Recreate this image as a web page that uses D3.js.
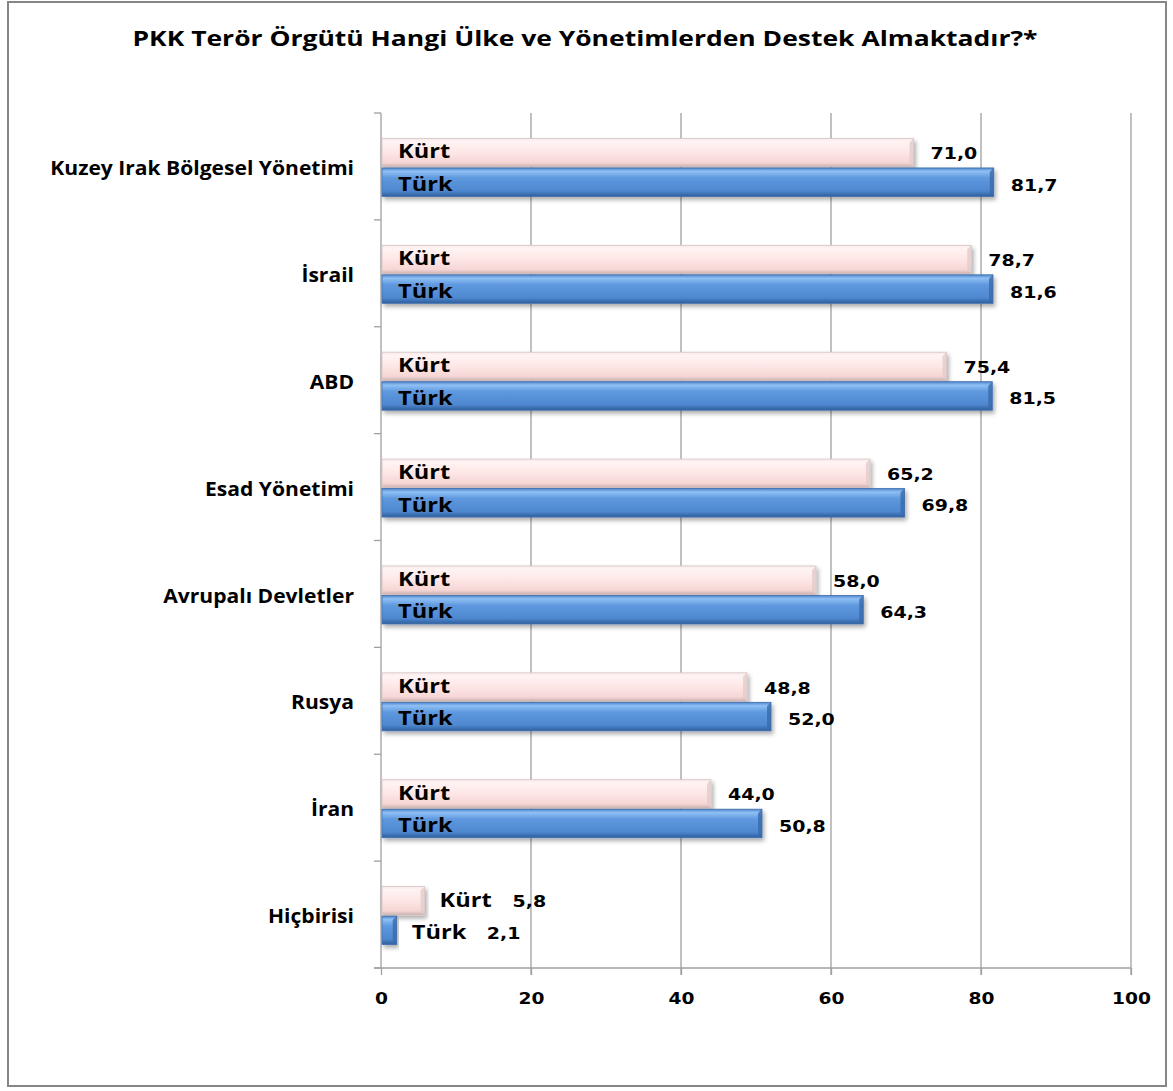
<!DOCTYPE html>
<html>
<head>
<meta charset="utf-8">
<script src="https://cdn.jsdelivr.net/npm/d3@7"></script>
<style>
  body { margin: 0; background: #fff; }
  svg text { fill: #000; }
</style>
</head>
<body>
<svg id="chart" width="1173" height="1091"></svg>
<script>
// chart data
var categories = ["Kuzey Irak Bölgesel Yönetimi", "İsrail", "ABD", "Esad Yönetimi",
                  "Avrupalı Devletler", "Rusya", "İran", "Hiçbirisi"];
var kurtValues = [71.0, 78.7, 75.4, 65.2, 58.0, 48.8, 44.0, 5.8];
var turkValues = [81.7, 81.6, 81.5, 69.8, 64.3, 52.0, 50.8, 2.1];
var seriesNames = ["Kürt", "Türk"];
var xTicks = [0, 20, 40, 60, 80, 100];
var title = "PKK Terör Örgütü Hangi Ülke ve Yönetimlerden Destek Almaktadır?*";

var svg = d3.select("#chart");

// the original picture is a bit wide, so text gets stretched sideways
function stretch(sel, k) {
    sel.each(function () {
        var len = this.getComputedTextLength();
        d3.select(this).attr("textLength", len * k).attr("lengthAdjust", "spacingAndGlyphs");
    });
}

// outer frame
svg.append("rect").attr("x", 8).attr("y", 2).attr("width", 1158).attr("height", 1084)
    .attr("fill", "#fff").attr("stroke", "#868686").attr("stroke-width", 2);

var plotLeft = 381, plotRight = 1131, plotTop = 113, plotBottom = 968;

var x = d3.scaleLinear().domain([0, 100]).range([plotLeft, plotRight]);
var y = d3.scaleBand().domain(categories).range([plotTop, plotBottom]);

// gradients
var defs = svg.append("defs");
function grad(id, stops) {
    var g = defs.append("linearGradient").attr("id", id)
        .attr("x1", 0).attr("y1", 0).attr("x2", 0).attr("y2", 1);
    stops.forEach(function (s) {
        g.append("stop").attr("offset", s[0]).attr("stop-color", s[1]);
    });
}
grad("gKurt", [[0, "#f6eaea"], [0.12, "#fff3f3"], [0.5, "#fde6e5"], [0.85, "#f5d6d5"], [1, "#c9b1b0"]]);
grad("gTurk", [[0, "#4f86cc"], [0.12, "#8fc0f5"], [0.35, "#5e98de"], [0.8, "#4f88d0"], [1, "#2f5e9c"]]);
var sh = defs.append("filter").attr("id", "shadow").attr("x", "-5%").attr("y", "-20%")
    .attr("width", "115%").attr("height", "160%");
sh.append("feDropShadow").attr("dx", 2).attr("dy", 3).attr("stdDeviation", 2)
    .attr("flood-color", "#000").attr("flood-opacity", 0.32);

// gridlines
svg.append("g").selectAll("line").data(xTicks.slice(1)).enter().append("line")
    .attr("x1", function (d) { return x(d); }).attr("x2", function (d) { return x(d); })
    .attr("y1", plotTop).attr("y2", plotBottom + 7)
    .attr("stroke", "#a0a0a0").attr("stroke-width", 1.3);

// x axis
var xAxis = svg.append("g").attr("transform", "translate(0," + plotBottom + ")")
    .call(d3.axisBottom(x).tickValues(xTicks).tickSize(7).tickPadding(14));
xAxis.select(".domain").attr("d", "M" + (plotLeft - 7) + ",0H" + plotRight).attr("stroke", "#a0a0a0").attr("stroke-width", 1.3);
xAxis.selectAll(".tick line").attr("stroke", "#a0a0a0").attr("stroke-width", 1.3);
xAxis.selectAll(".tick text").attr("font-family", "DejaVu Sans").attr("font-weight", "bold")
    .attr("font-size", 16.5).attr("dy", "0.9em");
stretch(xAxis.selectAll(".tick text"), 1.13);

// y axis
var yAxis = svg.append("g").attr("transform", "translate(" + plotLeft + ",0)")
    .call(d3.axisLeft(y).tickSize(0).tickPadding(27));
yAxis.select(".domain").attr("d", "M0," + plotTop + "V" + plotBottom).attr("stroke", "#a0a0a0").attr("stroke-width", 1.3);
yAxis.selectAll(".tick text").attr("font-family", "Open Sans").attr("font-weight", "bold")
    .attr("font-size", 19.5).attr("dy", "0.44em");
stretch(yAxis.selectAll(".tick text"), 1.08);
// category separators
svg.append("g").selectAll("line").data(categories.concat([null])).enter().append("line")
    .attr("x1", plotLeft - 7).attr("x2", plotLeft)
    .attr("y1", function (d, i) { return plotTop + i * y.bandwidth(); })
    .attr("y2", function (d, i) { return plotTop + i * y.bandwidth(); })
    .attr("stroke", "#a0a0a0").attr("stroke-width", 1.3);

// bars
var barH = 29.5;
var series = [kurtValues, turkValues];
var fills = ["url(#gKurt)", "url(#gTurk)"];
var strokes = ["#d8c3c2", "#3f6fae"];

series.forEach(function (vals, s) {
    var g = svg.append("g");
    var rows = g.selectAll("g").data(categories).enter().append("g");
    function by(i) { return y(categories[i]) + y.bandwidth() / 2 - barH + s * barH + 1.5; }
    rows.append("rect")
        .attr("x", x(0) + 1)
        .attr("y", function (d, i) { return by(i); })
        .attr("width", function (d, i) { return x(vals[i]) - x(0) - 1; })
        .attr("height", barH - 1)
        .attr("fill", fills[s]).attr("stroke", strokes[s]).attr("stroke-width", 0.8)
        .attr("filter", "url(#shadow)");
    // bevel shade at the right end
    rows.append("path")
        .attr("d", function (d, i) {
            var xe = x(vals[i]), yt = by(i), b = 4;
            return "M" + (xe - b) + "," + (yt + b) + "L" + xe + "," + yt + "L" + xe + "," + (yt + barH - 1) +
                "L" + (xe - b) + "," + (yt + barH - 1 - b) + "Z";
        })
        .attr("fill", s === 0 ? "#e2cccb" : "#3a6aaa").attr("opacity", 0.8);
    // name label and value label
    rows.each(function (d, i) {
        var row = d3.select(this);
        var v = vals[i];
        var yc = by(i) + barH / 2;
        var short = x(v) - x(0) < 80;
        var nameX = short ? x(v) + 15 : x(0) + 17;
        var nm = row.append("text").attr("x", nameX).attr("y", yc - 2 + s * 3).attr("dy", "0.36em")
            .attr("font-family", "Open Sans").attr("font-weight", "bold").attr("font-size", 20)
            .text(seriesNames[s]);
        stretch(nm, 1.18);
        var valX = short ? nameX + 73 + s * 2 : x(v) + 17;
        var vl = row.append("text").attr("x", valX).attr("y", yc + (s === 0 ? 0 : 2)).attr("dy", "0.36em")
            .attr("font-family", "DejaVu Sans").attr("font-weight", "bold").attr("font-size", 16.5)
            .text(d3.format(".1f")(v).replace(".", ","));
        stretch(vl, 1.15);
    });
});

// title
var t = svg.append("text").attr("x", 585).attr("y", 46).attr("text-anchor", "middle")
    .attr("font-family", "Open Sans").attr("font-weight", "bold").attr("font-size", 20.5)
    .text(title);
t.attr("textLength", 905).attr("lengthAdjust", "spacingAndGlyphs");
</script>
</body>
</html>
